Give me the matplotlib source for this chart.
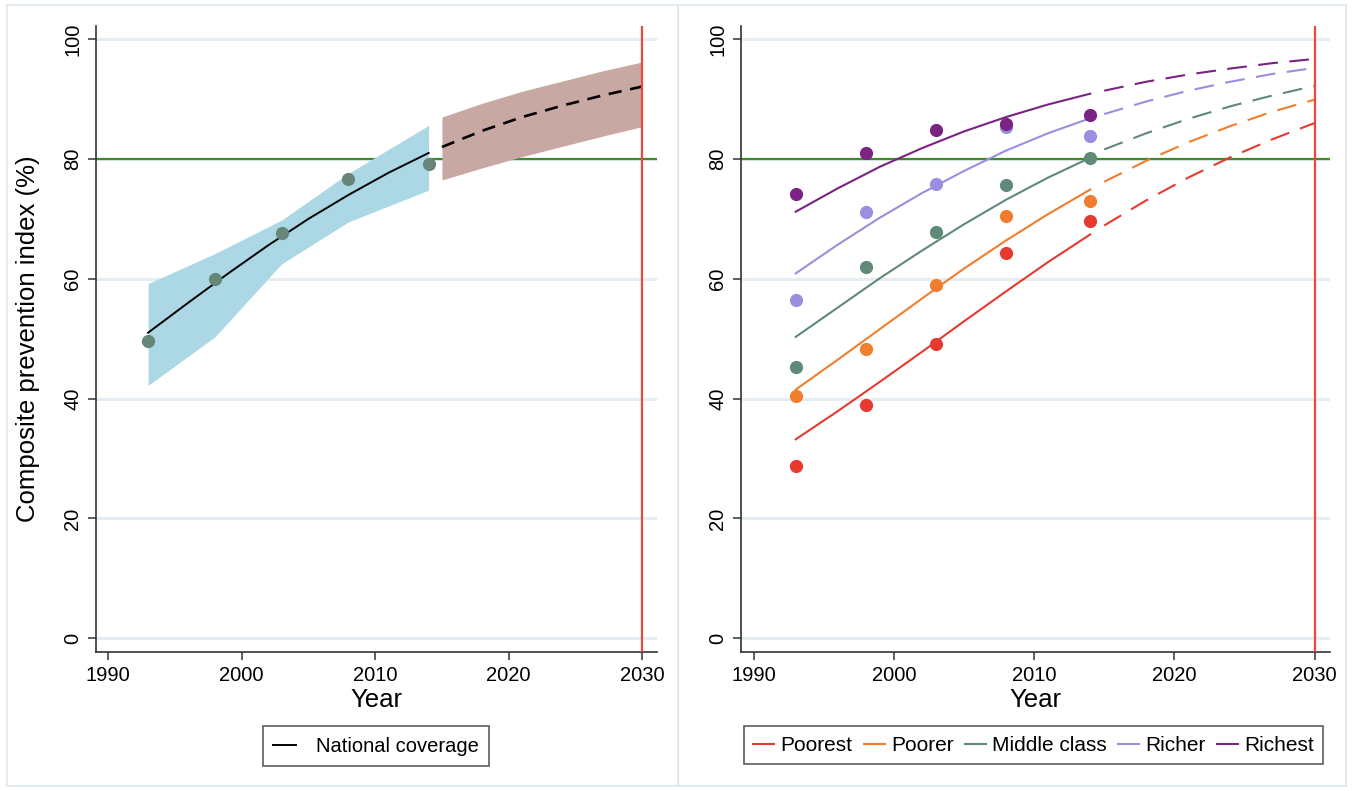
import matplotlib
matplotlib.use('Agg')
import matplotlib.pyplot as plt
from matplotlib.patches import Rectangle

plt.rcParams['font.family'] = ['Liberation Sans', 'DejaVu Sans']

# ---------------- data ----------------
survey_years = [1993, 1998, 2003, 2008, 2014]
fit_years = [1993, 1996, 1999, 2002, 2005, 2008, 2011, 2014]
proj_years = [2015, 2018, 2021, 2024, 2027, 2030]

national_obs = [49.6, 59.9, 67.6, 76.6, 79.2]
national_fit = [51.0, 56.0, 60.9, 65.6, 70.0, 74.0, 77.7, 81.0]
national_proj = [82.0, 84.7, 87.0, 88.9, 90.6, 92.1]
national_ci_upper = [59.2, 64.2, 69.8, 77.6, 85.6]
national_ci_lower = [42.2, 50.3, 62.5, 69.5, 74.8]
proj_ci_upper = [87.0, 89.3, 91.3, 93.0, 94.7, 96.2]
proj_ci_lower = [76.5, 78.5, 80.4, 82.1, 83.8, 85.4]

groups = ['Poorest', 'Poorer', 'Middle class', 'Richer', 'Richest']
poorest_obs = [28.7, 39.0, 49.1, 64.3, 69.7]
poorer_obs = [40.4, 48.2, 58.9, 70.5, 73.0]
middle_obs = [45.2, 61.9, 67.8, 75.6, 80.1]
richer_obs = [56.5, 71.1, 75.8, 85.4, 83.9]
richest_obs = [74.1, 81.0, 84.9, 85.9, 87.4]

poorest_fit = [33.2, 37.9, 42.8, 47.8, 52.9, 57.9, 62.8, 67.4]
poorer_fit = [41.5, 46.5, 51.6, 56.7, 61.7, 66.4, 70.8, 74.9]
middle_fit = [50.3, 55.2, 60.1, 64.7, 69.1, 73.2, 76.9, 80.2]
richer_fit = [60.9, 65.7, 70.2, 74.3, 78.0, 81.4, 84.3, 86.8]
richest_fit = [71.2, 75.1, 78.7, 81.8, 84.6, 87.0, 89.1, 90.9]

poorest_proj = [68.9, 73.1, 76.9, 80.3, 83.3, 86.0]
poorer_proj = [76.2, 79.7, 82.8, 85.5, 87.9, 89.9]
middle_proj = [81.6, 84.3, 86.7, 88.8, 90.6, 92.2]
richer_proj = [87.5, 89.6, 91.4, 92.9, 94.2, 95.2]
richest_proj = [91.4, 92.9, 94.1, 95.1, 96.0, 96.7]

target_level = 80
target_year = 2030
x_ticks = [1990, 2000, 2010, 2020, 2030]
y_ticks = [0, 20, 40, 60, 80, 100]

group_obs = [poorest_obs, poorer_obs, middle_obs, richer_obs, richest_obs]
group_fit = [poorest_fit, poorer_fit, middle_fit, richer_fit, richest_fit]
group_proj = [poorest_proj, poorer_proj, middle_proj, richer_proj, richest_proj]
group_colors = ['#e63a30', '#f07e2e', '#5e8a77', '#9a8fde', '#7a2383']

# ---------------- figure ----------------
W, H = 1352, 791
fig = plt.figure(figsize=(W / 100, H / 100), dpi=100)
fig.patch.set_facecolor('white')

# panel frames
frame_col = '#e2eaef'
fig.add_artist(Rectangle((7 / W, 1 - 786 / H), (678 - 7) / W, (786 - 5) / H,
                         transform=fig.transFigure, fill=False, ec=frame_col, lw=1.5))
fig.add_artist(Rectangle((678 / W, 1 - 786 / H), (1346 - 678) / W, (786 - 5) / H,
                         transform=fig.transFigure, fill=False, ec=frame_col, lw=1.5))

axL = fig.add_axes([96 / W, 1 - 652 / H, (657 - 96) / W, (652 - 26) / H])
axR = fig.add_axes([741 / W, 1 - 652 / H, (1330 - 741) / W, (652 - 26) / H])

grid_col = '#e4edf1'
tick_fs = 14.5
lab_fs = 18.5


def style(ax):
    ax.set_xlim(1989.1, 2031.1)
    ax.set_ylim(-2.3, 102.2)
    ax.set_xticks(x_ticks)
    ax.set_yticks(y_ticks)
    for s in ['top', 'right']:
        ax.spines[s].set_visible(False)
    for s in ['left', 'bottom']:
        ax.spines[s].set_color('#333333')
        ax.spines[s].set_linewidth(1.2)
    ax.tick_params(axis='both', direction='out', length=6, width=1.1,
                   color='#333333', labelsize=tick_fs, pad=4)
    for lab in ax.get_yticklabels():
        lab.set_rotation(90)
        lab.set_va('center')
    for y in y_ticks:
        ax.axhline(y, color=grid_col, lw=2.2, zorder=0)
    ax.axhline(target_level, color='#3f8a2a', lw=1.6, zorder=1)
    ax.axvline(target_year, color='#ee463d', lw=1.6, zorder=6)
    ax.set_xlabel('Year', fontsize=lab_fs)
    ax.xaxis.set_label_coords(0.5, -0.058)


style(axL)
style(axR)

# ---- left panel ----
axL.fill_between(survey_years, national_ci_lower, national_ci_upper,
                 color='#acd7e5', lw=0, zorder=2)
axL.fill_between(proj_years, proj_ci_lower, proj_ci_upper,
                 color='#c7a8a3', lw=0, zorder=2)
axL.plot(fit_years, national_fit, color='black', lw=1.4, zorder=4,
         label='National coverage')
axL.plot(proj_years, national_proj, color='black', lw=1.9,
         linestyle=(0, (5, 3.3)), zorder=4)
axL.plot(survey_years, national_obs, 'o', color='#66867a', ms=9.5, mec='none', zorder=5)
axL.set_ylabel('Composite prevention index (%)', fontsize=lab_fs)
axL.yaxis.set_label_coords(-0.100, 0.50)

legL = axL.legend(loc='upper center', bbox_to_anchor=(0.499, -0.119), fontsize=tick_fs,
                  frameon=True, fancybox=False, edgecolor='#333333',
                  handlelength=1.15, handletextpad=1.0, borderpad=0.5,
                  borderaxespad=0)
legL.get_frame().set_linewidth(1.2)

# ---- right panel ----
for name, obs, fit, proj, col in zip(groups, group_obs, group_fit, group_proj, group_colors):
    axR.plot(fit_years, fit, color=col, lw=1.5, zorder=4, label=name)
    axR.plot(proj_years, proj, color=col, lw=1.5, linestyle=(0, (9.5, 5.5)), zorder=4)
    axR.plot(survey_years, obs, 'o', color=col, ms=9.5, mec='none', zorder=5)

legR = axR.legend(loc='upper center', bbox_to_anchor=(0.497, -0.119), fontsize=15,
                  ncol=5, frameon=True, fancybox=False, edgecolor='#333333',
                  handlelength=1.0, handletextpad=0.3, columnspacing=0.55,
                  borderpad=0.45, borderaxespad=0)
legR.get_frame().set_linewidth(1.2)

fig.savefig('out.png', dpi=100, facecolor='white')
